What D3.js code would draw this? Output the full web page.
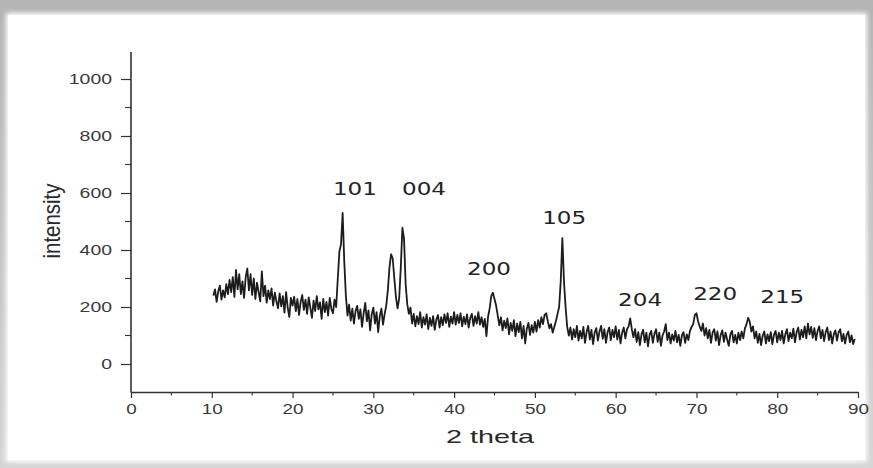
<!DOCTYPE html>
<html>
<head>
<meta charset="utf-8">
<script src="https://cdn.jsdelivr.net/npm/d3@7"></script>
<style>
  html, body { margin: 0; padding: 0; background: #fff; }
  svg { display: block; }
</style>
</head>
<body>
<svg id="chart" width="873" height="468"></svg>
<script>
// XRD pattern, intensity every 0.2 degrees of 2 theta
const scanStep = 0.2;
const int10to20 = [240,262,218,255,275,226,258,234,280,245,295,252,305,235,330,262,315,245,290,232,
  305,335,258,315,242,300,228,285,252,220,325,238,275,215,258,228,265,205,250,220,
  195,248,202,238,180,252,198,165,232,205];
const int20to30 = [236,185,228,172,218,242,190,226,176,234,198,162,222,186,238,192,216,158,228,182,
  218,170,232,194,178,226,200,300,395,420,530,360,240,170,208,152,194,142,186,204,
  158,192,130,178,214,150,188,118,174,198];
const int30to40 = [142,182,112,168,194,138,176,205,260,340,385,370,300,235,195,230,340,478,440,280,
  210,176,198,142,176,132,168,140,182,128,164,138,174,122,162,134,168,120,156,172,
  128,164,136,174,144,178,130,166,142,182];
const int40to50 = [138,172,144,178,132,166,140,174,128,162,176,134,168,142,182,138,164,130,158,98,
  165,195,238,250,228,205,170,136,164,118,152,126,160,104,144,116,154,98,142,112,
  148,90,134,72,124,144,102,136,110,148];
const int50to60 = [114,154,128,164,140,172,178,150,125,140,110,130,150,175,200,290,442,290,200,130,
  100,128,86,122,94,134,82,116,90,130,74,112,134,86,120,70,110,126,82,114,
  134,88,122,74,112,128,84,120,94,132];
const int60to70 = [86,120,72,110,128,90,122,132,160,122,94,122,78,112,66,104,120,76,110,62,
  102,116,74,106,122,78,110,64,100,114,140,84,110,72,104,82,116,76,102,64,
  100,112,74,104,84,116,130,140,172,178];
const int70to80 = [150,132,116,142,100,126,90,120,74,110,122,82,114,66,102,118,78,110,86,64,
  104,116,76,102,72,110,84,114,90,125,140,162,148,114,132,90,114,74,106,66,
  100,114,72,104,80,112,70,102,116,76];
const int80to90 = [110,84,116,72,104,122,80,110,90,124,76,112,128,86,120,94,132,90,142,104,
  130,92,126,84,116,132,90,120,80,112,128,84,114,72,104,118,82,112,122,80,
  106,72,102,114,76,100,70,88];
const segmentStarts = [10.2, 20.2, 30.2, 40.2, 50.2, 60.2, 70.2, 80.2];

const xTicks = [0,10,20,30,40,50,60,70,80,90];
const xMinor = [5,15,25,35,45,55,65,75,85];
const yTicks = [0,200,400,600,800,1000];
const yMinor = [100,300,500,700,900];

const peakLabels = ["101","004","200","105","204","220","215"];
const peakAngles = [25.0, 33.55, 41.6, 50.9, 60.3, 69.6, 77.9];
const peakHeights = [593, 593, 312, 491, 203, 225, 214];

const segments = [int10to20,int20to30,int30to40,int40to50,int50to60,int60to70,int70to80,int80to90];
const pattern = [];
segments.forEach((seg, s) => {
  seg.forEach((v, i) => pattern.push([segmentStarts[s] + i * scanStep, v]));
});

const svg = d3.select("#chart");

// frame with soft shadow
const defs = svg.append("defs");
const grad = defs.append("linearGradient").attr("id", "topShade").attr("x1", 0).attr("y1", 0).attr("x2", 0).attr("y2", 1);
grad.append("stop").attr("offset", "0%").attr("stop-color", "#b4b4b4");
grad.append("stop").attr("offset", "100%").attr("stop-color", "#d6d6d6");
const blur = defs.append("filter").attr("id", "soft").attr("x", "-5%").attr("y", "-5%").attr("width", "110%").attr("height", "110%");
blur.append("feGaussianBlur").attr("stdDeviation", 2.5);

svg.append("rect").attr("width", 873).attr("height", 468).attr("fill", "url(#topShade)");
svg.append("rect").attr("x", 6).attr("y", 13).attr("width", 861).attr("height", 449)
  .attr("fill", "#fff").attr("filter", "url(#soft)");
svg.append("rect").attr("x", 8).attr("y", 15).attr("width", 857).attr("height", 445).attr("fill", "#fff");

const x = d3.scaleLinear().domain([0, 90]).range([131, 858]);
const y = d3.scaleLinear().domain([-100, 1100]).range([392.5, 50.5]);

const axisColor = "#333";
const labelColor = "#3a3a3a";

// y axis
const yAxis = svg.append("g").attr("transform", "translate(131,0)")
  .call(d3.axisLeft(y).tickValues(yTicks).tickFormat(d3.format("d")).tickSize(10).tickPadding(9).tickSizeOuter(0));
yAxis.select(".domain").attr("stroke", axisColor).attr("stroke-width", 1.6).attr("d", `M0,${y(-100)}V52`);
yAxis.selectAll(".tick line").attr("stroke", axisColor).attr("stroke-width", 1.2);
yAxis.selectAll(".tick text")
  .attr("fill", labelColor).attr("font-family", "Liberation Sans, Arial, sans-serif").attr("font-size", 14)
  .attr("textLength", d => String(d).length * 10.8).attr("lengthAdjust", "spacingAndGlyphs");
svg.append("g").selectAll("line").data(yMinor).join("line")
  .attr("x1", 125).attr("x2", 131).attr("y1", d => y(d)).attr("y2", d => y(d))
  .attr("stroke", axisColor).attr("stroke-width", 1.1);

// x axis
const xAxis = svg.append("g").attr("transform", "translate(0,392)")
  .call(d3.axisBottom(x).tickValues(xTicks).tickFormat(d3.format("d")).tickSize(6).tickPadding(6).tickSizeOuter(0));
xAxis.select(".domain").attr("stroke", axisColor).attr("stroke-width", 1.6);
xAxis.selectAll(".tick line").attr("stroke", axisColor).attr("stroke-width", 1.2);
xAxis.selectAll(".tick text")
  .attr("fill", labelColor).attr("font-family", "Liberation Sans, Arial, sans-serif").attr("font-size", 14)
  .attr("textLength", d => String(d).length * 10.5).attr("lengthAdjust", "spacingAndGlyphs");
svg.append("g").selectAll("line").data(xMinor).join("line")
  .attr("x1", d => x(d)).attr("x2", d => x(d)).attr("y1", 392).attr("y2", 395.5)
  .attr("stroke", axisColor).attr("stroke-width", 1.1);

// axis titles
svg.append("text").attr("transform", "translate(60,221) rotate(-90) scale(1,1.3)")
  .attr("text-anchor", "middle").attr("fill", "#2a2a2a")
  .attr("font-family", "Liberation Sans Narrow, Liberation Sans, Arial, sans-serif").attr("font-size", 18)
  .attr("textLength", 75).attr("lengthAdjust", "spacingAndGlyphs")
  .text("intensity");
svg.append("text").attr("x", 490).attr("y", 443).attr("text-anchor", "middle").attr("fill", "#2a2a2a")
  .attr("font-family", "Liberation Sans, Arial, sans-serif").attr("font-size", 19)
  .attr("textLength", 88).attr("lengthAdjust", "spacingAndGlyphs")
  .text("2 theta");

// pattern
const line = d3.line().x(d => x(d[0])).y(d => y(d[1]));
svg.append("path").datum(pattern).attr("d", line)
  .attr("fill", "none").attr("stroke", "#1c1c1c").attr("stroke-width", 1.8)
  .attr("stroke-linejoin", "round");

// peak indices
svg.append("g").selectAll("text").data(peakLabels).join("text")
  .attr("x", (d, i) => x(peakAngles[i])).attr("y", (d, i) => y(peakHeights[i]))
  .attr("fill", "#222").attr("font-family", "DejaVu Sans, Verdana, sans-serif").attr("font-size", 17)
  .attr("textLength", 44).attr("lengthAdjust", "spacingAndGlyphs")
  .text(d => d);
</script>
</body>
</html>
